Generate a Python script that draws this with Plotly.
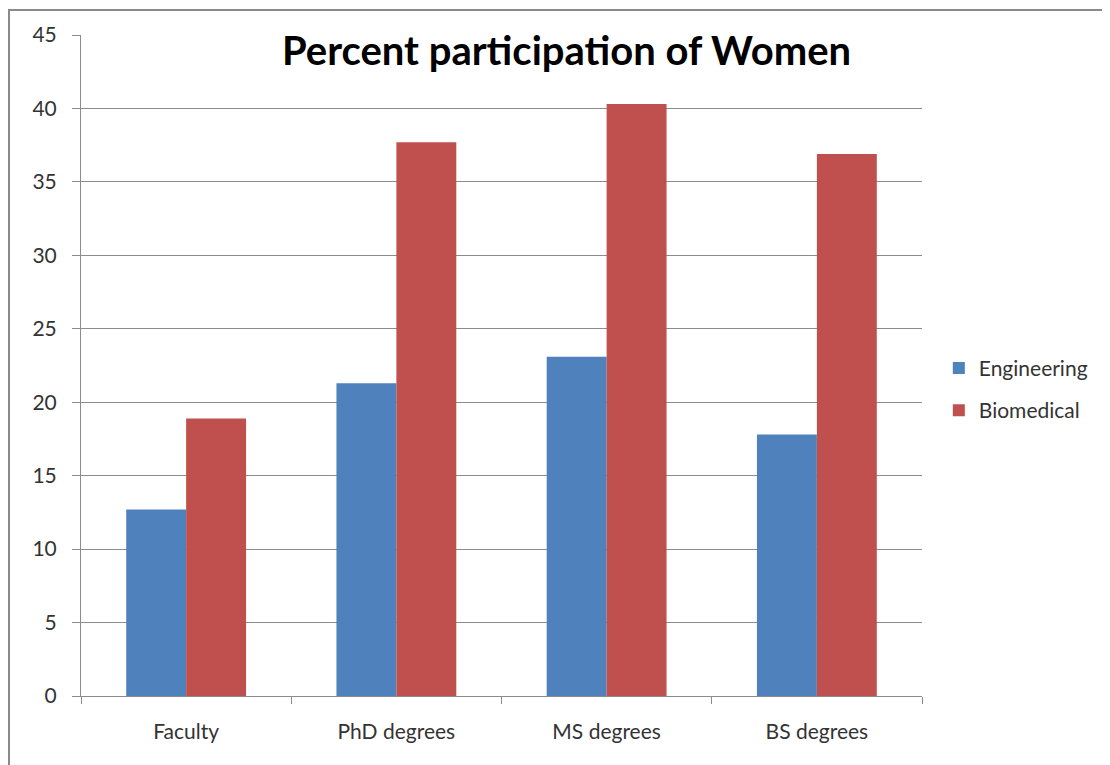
import plotly.graph_objects as go

categories = ["Faculty", "PhD degrees", "MS degrees", "BS degrees"]
engineering = [12.7, 21.3, 23.1, 17.8]
biomedical = [18.9, 37.7, 40.3, 36.9]
y_ticks = [0, 5, 10, 15, 20, 25, 30, 35, 40, 45]

FONT = "Lato, 'Open Sans', sans-serif"

fig = go.Figure()
fig.add_trace(go.Bar(x=categories, y=engineering, name="Engineering",
                     marker=dict(color="#4F81BD", line=dict(width=0)),
                     legendgroup="a"))
fig.add_trace(go.Bar(x=categories, y=biomedical, name="Biomedical",
                     marker=dict(color="#C0504D", line=dict(width=0)),
                     legendgroup="b"))

fig.update_layout(
    width=1102, height=757,
    margin=dict(l=73, r=188, t=27, b=69),
    paper_bgcolor="white", plot_bgcolor="white",
    barmode="group", bargap=0.43, bargroupgap=0,
    font=dict(family=FONT, size=21, color="#333333"),
    showlegend=True,
    legend=dict(x=1.02, y=0.464, xanchor="left", yanchor="middle",
                font=dict(size=21, color="#333333"),
                tracegroupgap=12, itemwidth=30),
    annotations=[dict(text="<b>Percent participation of Women</b>",
                      xref="paper", yref="paper", x=0.577, y=0.977,
                      xanchor="center", yanchor="middle", showarrow=False,
                      font=dict(family=FONT, size=40, color="#000000"))],
    shapes=[dict(type="rect", xref="paper", yref="paper",
                 x0=-0.0856, x1=1.4, y0=-0.3, y1=1.0378,
                 line=dict(color="#8a8a8a", width=2), fillcolor="rgba(0,0,0,0)",
                 layer="below")],
)

fig.update_yaxes(range=[0, 45], tickvals=y_ticks, showgrid=True,
                 gridcolor="#8c8c8c", gridwidth=1,
                 showline=True, linecolor="#8c8c8c", linewidth=1,
                 ticks="outside", ticklen=8, tickcolor="#8c8c8c",
                 ticklabelstandoff=11, zeroline=False,
                 tickfont=dict(size=21, color="#333333"))
fig.update_xaxes(showline=True, linecolor="#8c8c8c", linewidth=1,
                 ticks="outside", tickson="boundaries", ticklen=7,
                 tickcolor="#8c8c8c", ticklabelstandoff=17,
                 tickfont=dict(size=21, color="#333333"))

fig.write_html("out.html")
